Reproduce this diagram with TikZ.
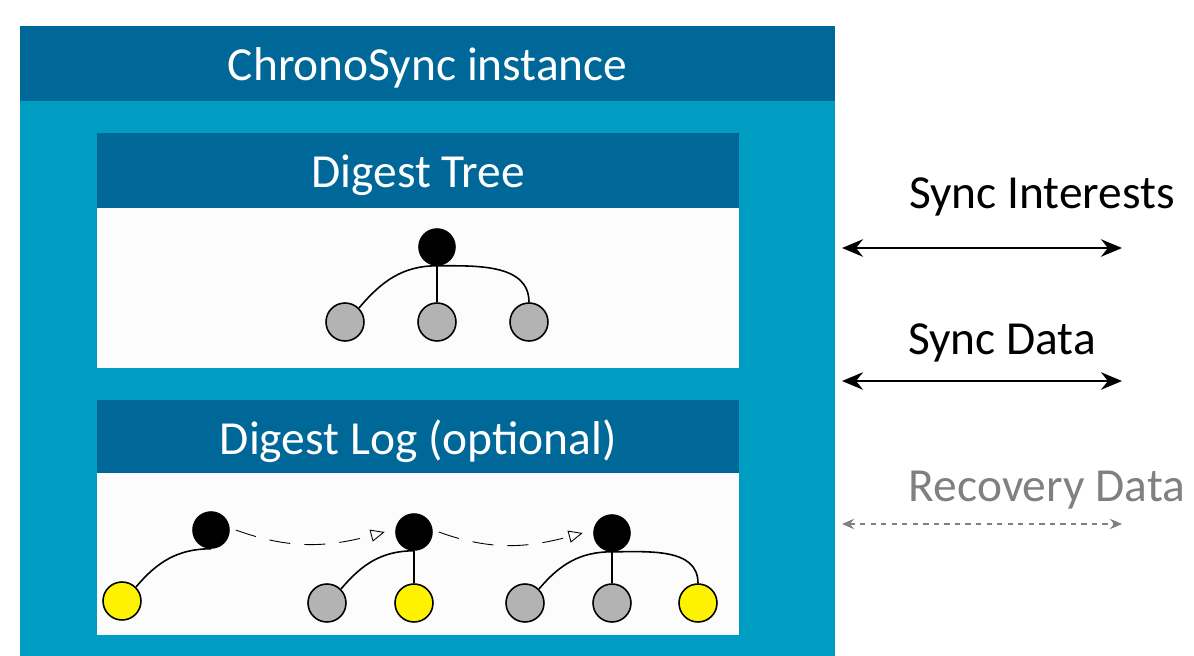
\documentclass[tikz,border=0pt]{standalone}
\usepackage{fontspec}
\setmainfont{Carlito}
\usepackage{tikz}
\usetikzlibrary{shapes,arrows.meta,positioning}
\definecolor{headblue}{RGB}{0,104,152}
\definecolor{boxblue}{RGB}{0,157,195}
\definecolor{paper}{RGB}{252,252,252}
\definecolor{leafgray}{RGB}{179,179,179}
\definecolor{recgray}{RGB}{128,128,128}
\tikzset{
    instance/.style = {rectangle, anchor=north west, inner sep=0pt, minimum width=16.3cm, minimum height=12.6cm, fill=boxblue},
    header/.style = {rectangle, anchor=north west, inner sep=0pt, minimum height=1.5cm, text depth=0pt, fill=headblue, text=white, font=\fontsize{27}{32}\selectfont},
    panel/.style = {rectangle, anchor=north west, inner sep=0pt, minimum width=12.84cm, minimum height=3.2cm, fill=paper},
    root/.style = {circle, minimum size=0.72cm, inner sep=0pt, draw=black, line width=0.9pt, fill=black},
    leaf/.style = {circle, minimum size=0.76cm, inner sep=0pt, draw=black, line width=0.9pt, fill=leafgray},
    newleaf/.style = {leaf, fill=yellow},
    edge/.style = {line width=0.9pt},
    next/.style = {dash pattern=on 12pt off 8pt, -{Triangle[open, length=8pt, width=7pt]}, line width=0.5pt},
    channel/.style = {line width=0.9pt, {Stealth[length=12pt, width=10pt, inset=4pt]}-{Stealth[length=12pt, width=10pt, inset=4pt]}},
    recovery/.style = {recgray, line width=0.6pt, dash pattern=on 3pt off 3pt, {Stealth[length=7pt, width=6pt, inset=2.5pt]}-{Stealth[length=7pt, width=6pt, inset=2.5pt]}},
    label/.style = {font=\fontsize{27}{32}\selectfont, inner sep=0pt}
}

\begin{document}
\begin{tikzpicture}[x=0.02cm, y=0.02cm]
    \useasboundingbox (0,0) rectangle (1194,-656);

    % Boxes
    \node [instance] (inst) at (20,-26) {};
    \node [header, minimum width=16.3cm] (insthead) at (20,-26) {ChronoSync instance};
    \node [header, minimum width=12.84cm] (treehead) at (97,-133) {Digest Tree};
    \node [panel] (treebody) at (97,-208) {};
    \node [header, minimum width=12.84cm, minimum height=1.46cm] (loghead) at (97,-400) {Digest Log (optional)};
    \node [panel, minimum height=3.24cm] (logbody) at (97,-473) {};

    % Digest tree
    \node [root] (r) at (437,-247) {};
    \node [leaf] (c1) at (345,-322) {};
    \node [leaf] (c2) at (437,-322) {};
    \node [leaf] (c3) at (529,-322) {};
    \draw [edge] (c1.north east) to[out=50, in=180] (r.south);
    \draw [edge] (c2) -- (r);
    \draw [edge] (r.south) to[out=0, in=90] (c3.north);

    % Digest log
    \node [root] (ra) at (211,-530) {};
    \node [newleaf] (a1) at (122,-601) {};
    \node [root] (rb) at (414,-532) {};
    \node [leaf] (b1) at (327,-603) {};
    \node [newleaf] (b2) at (414,-603) {};
    \node [root] (rc) at (612,-533) {};
    \node [leaf] (d1) at (525,-603) {};
    \node [leaf] (d2) at (612,-603) {};
    \node [newleaf] (d3) at (698,-603) {};
    \draw [edge] (a1.north east) to[out=50, in=180] (ra.south);
    \draw [edge] (b1.north east) to[out=50, in=180] (rb.south);
    \draw [edge] (b2) -- (rb);
    \draw [edge] (d1.north east) to[out=50, in=180] (rc.south);
    \draw [edge] (d2) -- (rc);
    \draw [edge] (rc.south) to[out=0, in=90] (d3.north);
    \draw [next] (ra.east) ++(6,0) coordinate (ra-out) to[out=-20, in=195] ([xshift=-6]rb.west);
    \draw [next] (rb.east) ++(6,0) coordinate (rb-out) to[out=-20, in=195] ([xshift=-6]rc.west);

    % Channels
    \coordinate (si-l) at (842,-248);
    \coordinate (si-r) at (1122,-248);
    \coordinate (sd-l) at (842,-381);
    \coordinate (sd-r) at (1122,-381);
    \coordinate (rd-l) at (842,-524);
    \coordinate (rd-r) at (1122,-524);
    \node [label] (silabel) at (1042,-197) {Sync Interests};
    \node [label] (sdlabel) at (1002,-343) {Sync Data};
    \node [label, text=recgray] (rdlabel) at (1047,-490) {Recovery Data};
    \draw [channel] (si-l) -- (si-r);
    \draw [channel] (sd-l) -- (sd-r);
    \draw [recovery] (rd-l) -- (rd-r);
\end{tikzpicture}
\end{document}
